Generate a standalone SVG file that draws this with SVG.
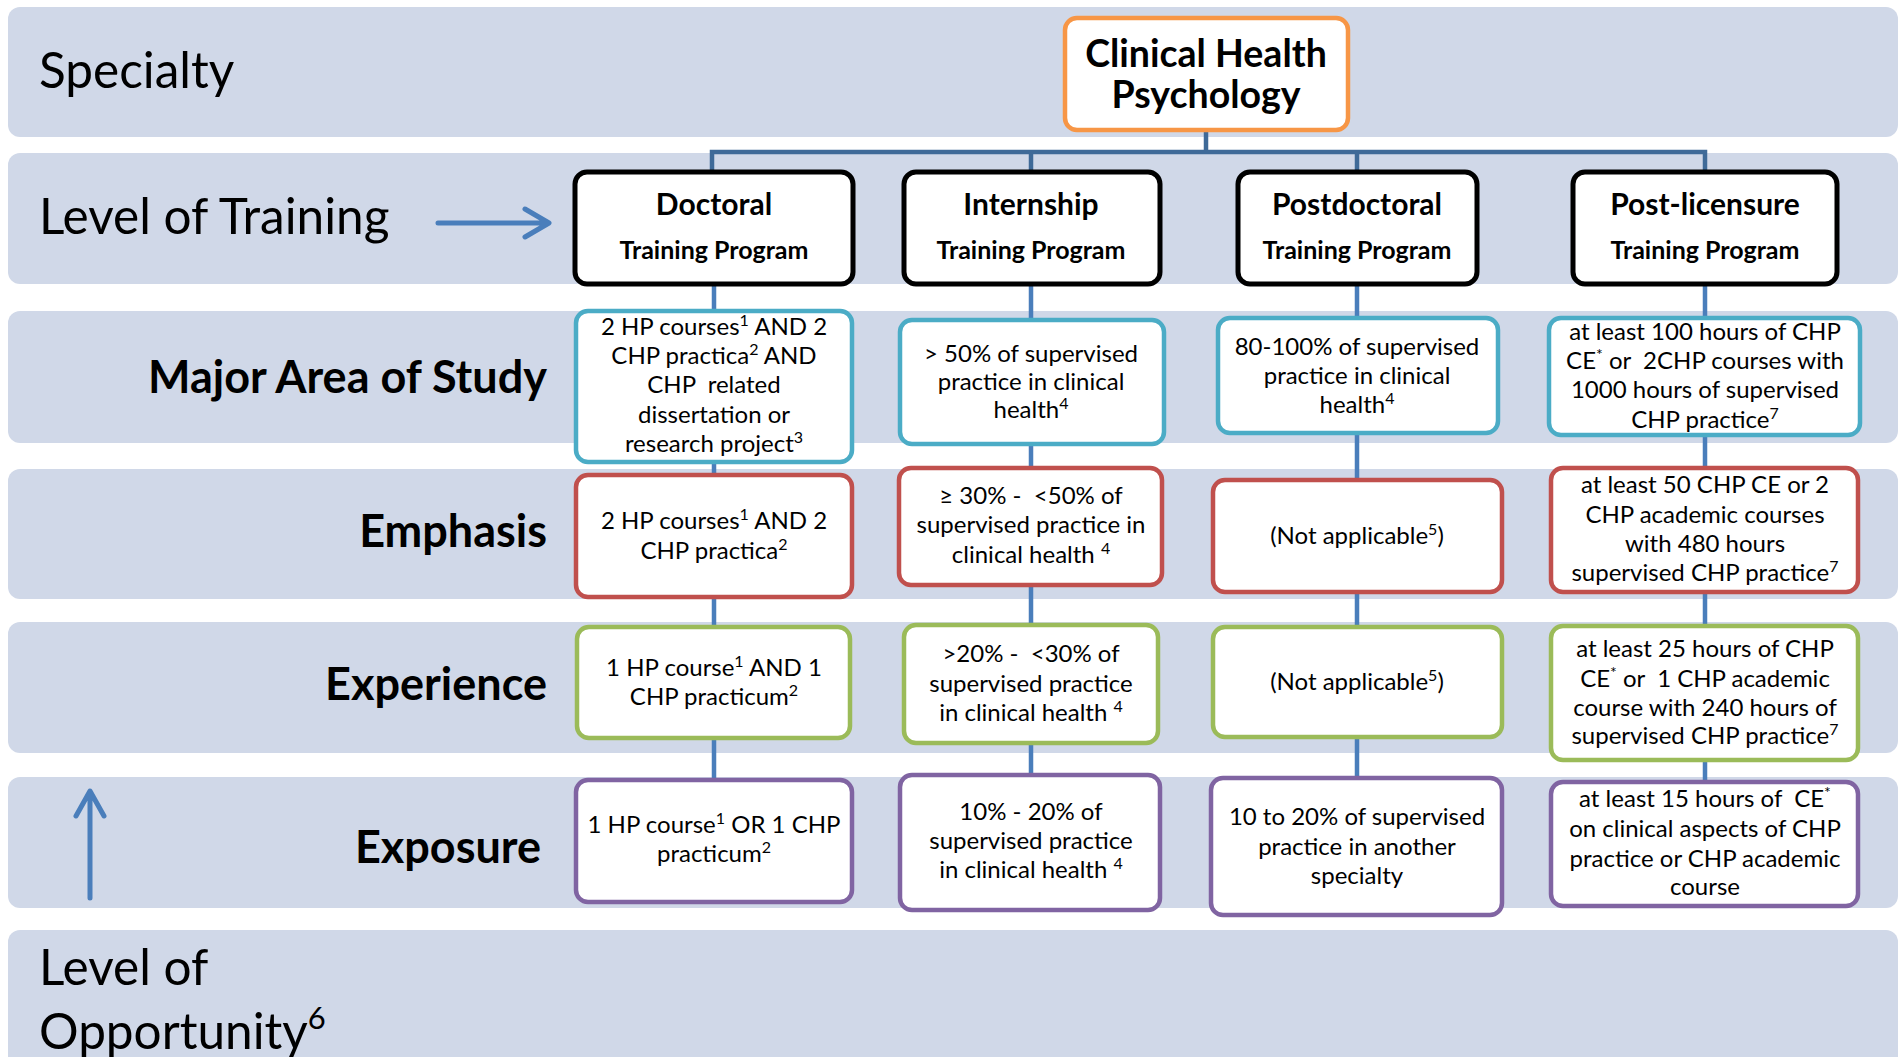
<svg xmlns="http://www.w3.org/2000/svg" width="1902" height="1057" viewBox="0 0 1902 1057">
<style>
.band{fill:#D0D8E8}
text{font-family:Lato,"Liberation Sans",sans-serif;fill:#000}
.lab{font-size:49.5px}
.bl{font-size:45px;font-weight:bold;text-anchor:end}
.t{font-size:24px;text-anchor:middle}
.h1{font-size:30px;font-weight:bold;text-anchor:middle}
.h2{font-size:25px;font-weight:bold;text-anchor:middle}
.hc{font-size:37.5px;font-weight:bold;text-anchor:middle}
.box{fill:#fff;stroke-width:4.5}
.lvl{stroke:#000;stroke-width:5}
.maj{stroke:#4BACC6}
.emp{stroke:#C0504D}
.exp{stroke:#9BBB59}
.exs{stroke:#8064A2}
.top{stroke:#F79646}
.c{stroke:#4A7EBB;stroke-width:4.5;fill:none}
.ct{stroke:#3F6A98;stroke-width:4.5;fill:none}
.arr{stroke:#4A7EBB;stroke-width:5;fill:none;stroke-linecap:round;stroke-linejoin:round}
</style>
<g id="bands">
<rect class="band" x="8" y="7" width="1890" height="130" rx="12"/>
<rect class="band" x="8" y="153" width="1890" height="131" rx="12"/>
<rect class="band" x="8" y="311" width="1890" height="132" rx="12"/>
<rect class="band" x="8" y="469" width="1890" height="130" rx="12"/>
<rect class="band" x="8" y="622" width="1890" height="131" rx="12"/>
<rect class="band" x="8" y="777" width="1890" height="131" rx="12"/>
<rect class="band" x="8" y="930" width="1890" height="140" rx="12"/>
</g>
<g id="labels">
<text class="lab" x="39" y="88">Specialty</text>
<text class="lab" x="39" y="234">Level of Training</text>
<text class="bl" x="547" y="393">Major Area of Study</text>
<text class="bl" x="547" y="547">Emphasis</text>
<text class="bl" x="547" y="700">Experience</text>
<text class="bl" x="541" y="863">Exposure</text>
<text class="lab" x="39" y="985">Level of</text>
<text class="lab" x="39" y="1049">Opportunity<tspan dy="-20" font-size="31">6</tspan></text>
</g>
<g id="arrows">
<path class="arr" d="M438 223 H547 M525 209 L549 223 L525 237"/>
<path class="arr" d="M90 898 V792 M76 816 L90 791 L104 816"/>
</g>
<g id="connectors">
<path class="ct" d="M1206 130 V152 M712 172 V152 H1705 V172 M1031 152 V172 M1357 152 V172"/>
<path class="c" d="M714 284 V780"/>
<path class="c" d="M1031 284 V776"/>
<path class="c" d="M1357 284 V779"/>
<path class="c" d="M1705 284 V782"/>
</g>
<g id="n-chp">
<rect class="box top" x="1065" y="18" width="283" height="112" rx="12"/>
<text class="hc" x="1206" y="67">Clinical Health</text>
<text class="hc" x="1206" y="108">Psychology</text>
</g>
<g id="n-lvl-doc">
<rect class="box lvl" x="575" y="172" width="278" height="112" rx="12"/>
<text class="h1" x="714" y="215">Doctoral</text>
<text class="h2" x="714" y="259">Training Program</text>
</g>
<g id="n-lvl-int">
<rect class="box lvl" x="904" y="172" width="256" height="112" rx="12"/>
<text class="h1" x="1031" y="215">Internship</text>
<text class="h2" x="1031" y="259">Training Program</text>
</g>
<g id="n-lvl-post">
<rect class="box lvl" x="1238" y="172" width="239" height="112" rx="12"/>
<text class="h1" x="1357" y="215">Postdoctoral</text>
<text class="h2" x="1357" y="259">Training Program</text>
</g>
<g id="n-lvl-lic">
<rect class="box lvl" x="1573" y="172" width="264" height="112" rx="12"/>
<text class="h1" x="1705" y="215">Post-licensure</text>
<text class="h2" x="1705" y="259">Training Program</text>
</g>
<g id="n-maj-doc">
<rect class="box maj" x="576" y="311" width="276" height="151" rx="12"/>
<text class="t" x="714" y="335">2 HP courses<tspan dy="-9" font-size="16">1</tspan><tspan dy="9"> AND 2</tspan></text>
<text class="t" x="714" y="364">CHP practica<tspan dy="-9" font-size="16">2</tspan><tspan dy="9"> AND</tspan></text>
<text class="t" x="714" y="393">CHP &#160;related</text>
<text class="t" x="714" y="423">dissertation or</text>
<text class="t" x="714" y="452">research project<tspan dy="-9" font-size="16">3</tspan></text>
</g>
<g id="n-maj-int">
<rect class="box maj" x="900" y="320" width="264" height="124" rx="12"/>
<text class="t" x="1031" y="362">&gt; 50% of supervised</text>
<text class="t" x="1031" y="390">practice in clinical</text>
<text class="t" x="1031" y="418">health<tspan dy="-9" font-size="16">4</tspan></text>
</g>
<g id="n-maj-post">
<rect class="box maj" x="1218" y="318" width="280" height="115" rx="12"/>
<text class="t" x="1357" y="355">80-100% of supervised</text>
<text class="t" x="1357" y="384">practice in clinical</text>
<text class="t" x="1357" y="413">health<tspan dy="-9" font-size="16">4</tspan></text>
</g>
<g id="n-maj-lic">
<rect class="box maj" x="1549" y="318" width="311" height="117" rx="12"/>
<text class="t" x="1705" y="340">at least 100 hours of CHP</text>
<text class="t" x="1705" y="369">CE<tspan dy="-9" font-size="16">*</tspan><tspan dy="9"> or &#160;2CHP courses with</tspan></text>
<text class="t" x="1705" y="398">1000 hours of supervised</text>
<text class="t" x="1705" y="428">CHP practice<tspan dy="-9" font-size="16">7</tspan></text>
</g>
<g id="n-emp-doc">
<rect class="box emp" x="576" y="475" width="276" height="122" rx="12"/>
<text class="t" x="714" y="529">2 HP courses<tspan dy="-9" font-size="16">1</tspan><tspan dy="9"> AND 2</tspan></text>
<text class="t" x="714" y="559">CHP practica<tspan dy="-9" font-size="16">2</tspan></text>
</g>
<g id="n-emp-int">
<rect class="box emp" x="899" y="468" width="263" height="117" rx="12"/>
<text class="t" x="1031" y="504">≥ 30% - &#160;&lt;50% of</text>
<text class="t" x="1031" y="533">supervised practice in</text>
<text class="t" x="1031" y="563">clinical health <tspan dy="-9" font-size="16">4</tspan></text>
</g>
<g id="n-emp-post">
<rect class="box emp" x="1213" y="480" width="289" height="112" rx="12"/>
<text class="t" x="1357" y="544">(Not applicable<tspan dy="-9" font-size="16">5</tspan><tspan dy="9">)</tspan></text>
</g>
<g id="n-emp-lic">
<rect class="box emp" x="1551" y="468" width="307" height="124" rx="12"/>
<text class="t" x="1705" y="493">at least 50 CHP CE or 2</text>
<text class="t" x="1705" y="523">CHP academic courses</text>
<text class="t" x="1705" y="552">with 480 hours</text>
<text class="t" x="1705" y="581">supervised CHP practice<tspan dy="-9" font-size="16">7</tspan></text>
</g>
<g id="n-exp-doc">
<rect class="box exp" x="577" y="627" width="273" height="111" rx="12"/>
<text class="t" x="714" y="676">1 HP course<tspan dy="-9" font-size="16">1</tspan><tspan dy="9"> AND 1</tspan></text>
<text class="t" x="714" y="705">CHP practicum<tspan dy="-9" font-size="16">2</tspan></text>
</g>
<g id="n-exp-int">
<rect class="box exp" x="904" y="625" width="254" height="118" rx="12"/>
<text class="t" x="1031" y="662">&gt;20% - &#160;&lt;30% of</text>
<text class="t" x="1031" y="692">supervised practice</text>
<text class="t" x="1031" y="721">in clinical health <tspan dy="-9" font-size="16">4</tspan></text>
</g>
<g id="n-exp-post">
<rect class="box exp" x="1213" y="627" width="289" height="110" rx="12"/>
<text class="t" x="1357" y="690">(Not applicable<tspan dy="-9" font-size="16">5</tspan><tspan dy="9">)</tspan></text>
</g>
<g id="n-exp-lic">
<rect class="box exp" x="1551" y="626" width="307" height="134" rx="12"/>
<text class="t" x="1705" y="657">at least 25 hours of CHP</text>
<text class="t" x="1705" y="687">CE<tspan dy="-9" font-size="16">*</tspan><tspan dy="9"> or &#160;1 CHP academic</tspan></text>
<text class="t" x="1705" y="716">course with 240 hours of</text>
<text class="t" x="1705" y="744">supervised CHP practice<tspan dy="-9" font-size="16">7</tspan></text>
</g>
<g id="n-exs-doc">
<rect class="box exs" x="576" y="780" width="276" height="122" rx="12"/>
<text class="t" x="714" y="833">1 HP course<tspan dy="-9" font-size="16">1</tspan><tspan dy="9"> OR 1 CHP</tspan></text>
<text class="t" x="714" y="862">practicum<tspan dy="-9" font-size="16">2</tspan></text>
</g>
<g id="n-exs-int">
<rect class="box exs" x="900" y="775" width="260" height="135" rx="12"/>
<text class="t" x="1031" y="820">10% - 20% of</text>
<text class="t" x="1031" y="849">supervised practice</text>
<text class="t" x="1031" y="878">in clinical health <tspan dy="-9" font-size="16">4</tspan></text>
</g>
<g id="n-exs-post">
<rect class="box exs" x="1211" y="778" width="291" height="137" rx="12"/>
<text class="t" x="1357" y="825">10 to 20% of supervised</text>
<text class="t" x="1357" y="855">practice in another</text>
<text class="t" x="1357" y="884">specialty</text>
</g>
<g id="n-exs-lic">
<rect class="box exs" x="1551" y="782" width="307" height="124" rx="12"/>
<text class="t" x="1705" y="807">at least 15 hours of &#160;CE<tspan dy="-9" font-size="16">*</tspan></text>
<text class="t" x="1705" y="837">on clinical aspects of CHP</text>
<text class="t" x="1705" y="867">practice or CHP academic</text>
<text class="t" x="1705" y="895">course</text>
</g>
</svg>
